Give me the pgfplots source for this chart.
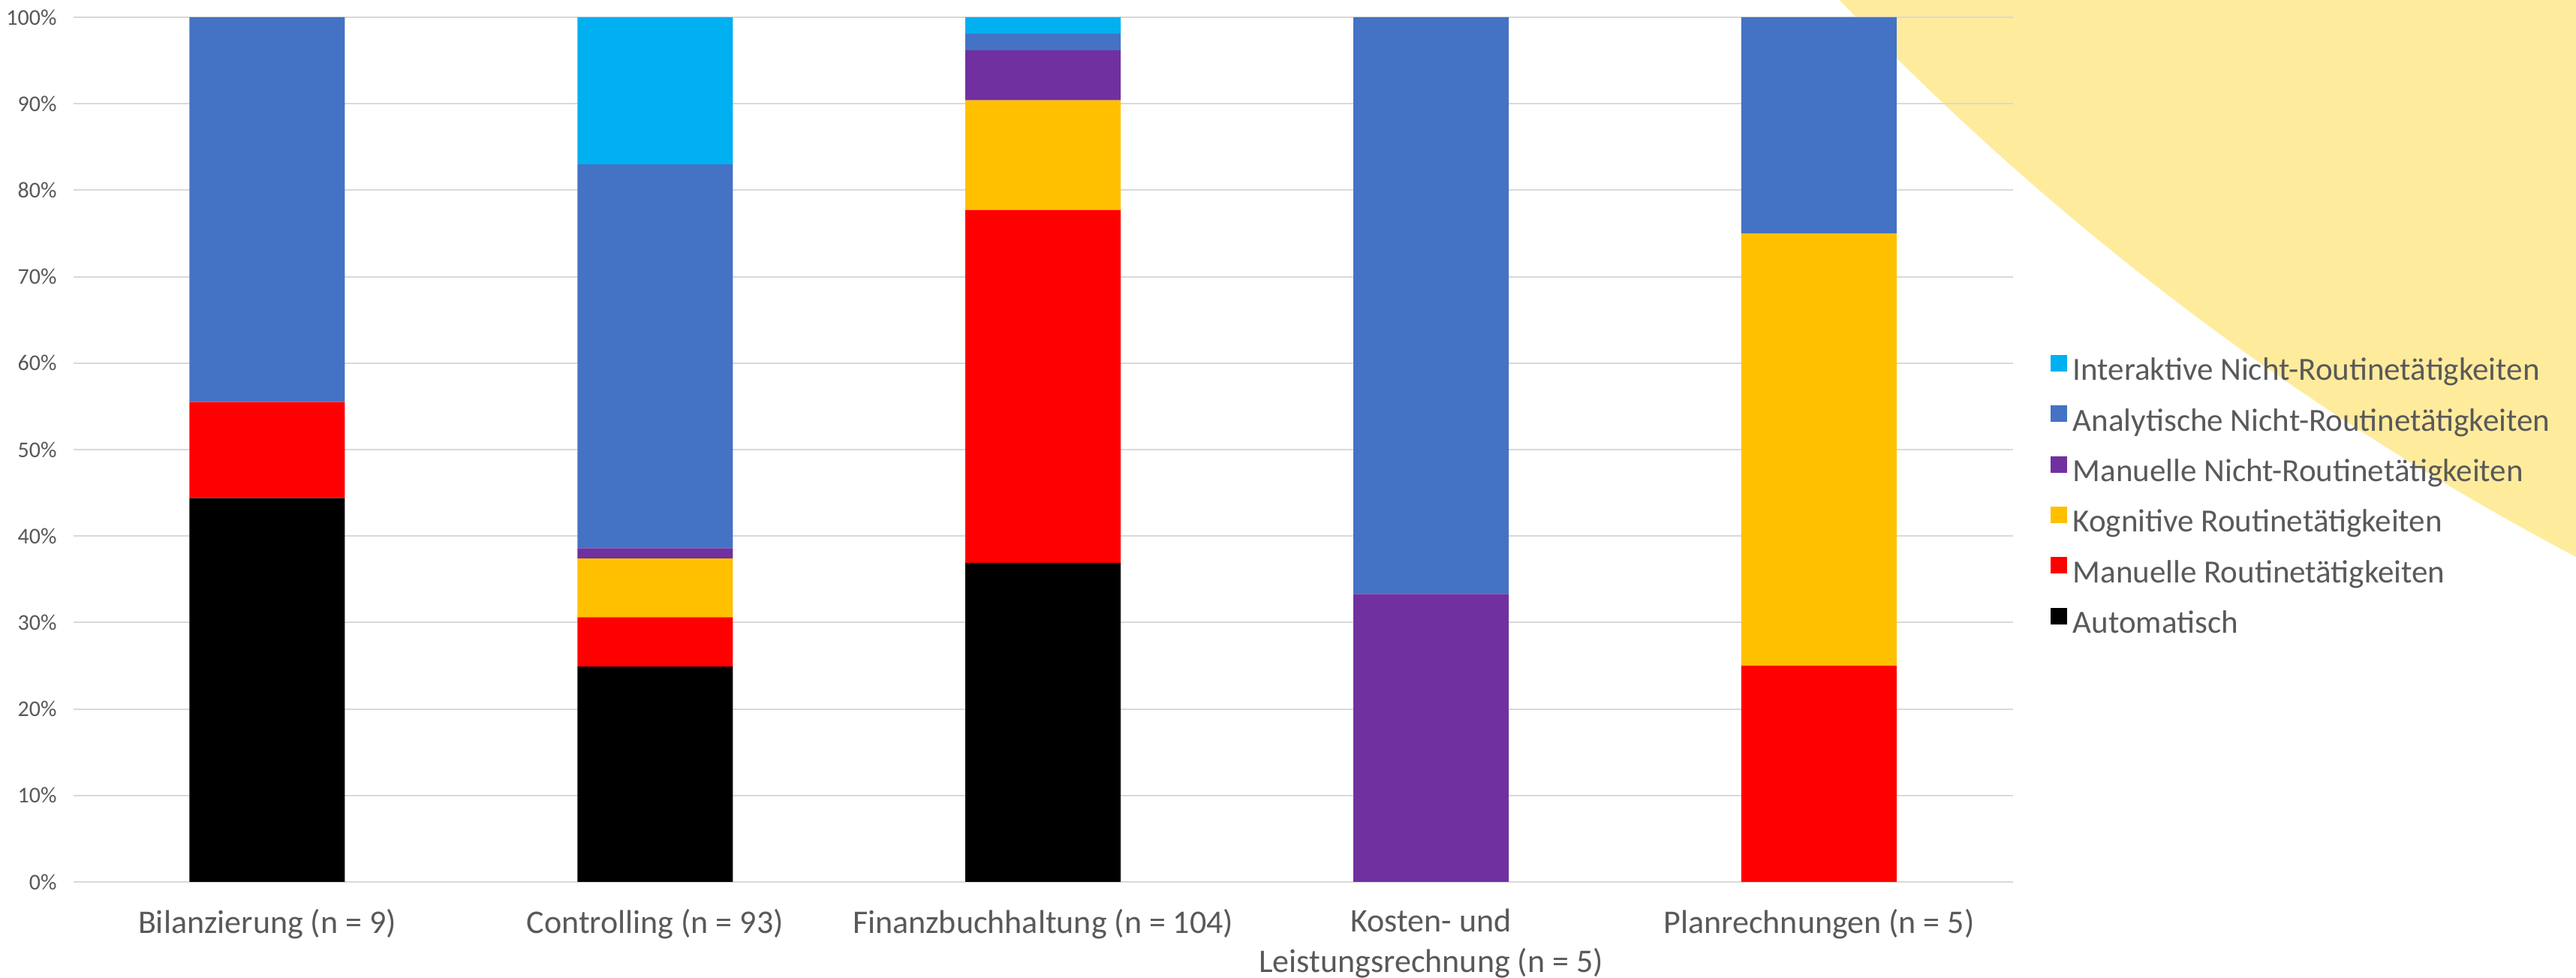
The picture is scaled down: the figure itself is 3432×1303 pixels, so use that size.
\documentclass[border=0pt]{standalone}
\usepackage{fontspec}
\setmainfont{Carlito}
\usepackage{pgfplots}
\pgfplotsset{compat=1.18}

\definecolor{txtgray}{HTML}{595959}
\definecolor{gridgray}{HTML}{D9D9D9}
\definecolor{bgyellow}{HTML}{FFEB9C}
\definecolor{cInter}{HTML}{00B0F0}
\definecolor{cAnaly}{HTML}{4472C4}
\definecolor{cManNR}{HTML}{7030A0}
\definecolor{cKogn}{HTML}{FFC000}
\definecolor{cManR}{HTML}{FF0000}
\definecolor{cAuto}{HTML}{000000}

\begin{document}
\begin{tikzpicture}[x=0.25pt,y=0.25pt]
\useasboundingbox (0,0) rectangle (3432,1303);
% decorative background disc in the upper right corner
\begin{scope}
  \clip (0,0) rectangle (3432,1303);
  \fill[bgyellow] (1301pt,982pt) circle[radius=951pt];
\end{scope}
\begin{axis}[
  at={(24.375pt,32pt)}, anchor=south west,
  width=646.1pt, height=288pt, scale only axis,
  ybar stacked, bar width=51.75pt,
  xmin=-0.5, xmax=4.5, ymin=0, ymax=100,
  xtick={0,1,2,3,4},
  xticklabels={Bilanzierung (n = 9), Controlling (n = 93), Finanzbuchhaltung (n = 104), {Kosten- und\\Leistungsrechnung (n = 5)}, Planrechnungen (n = 5)},
  ytick={0,10,...,100},
  yticklabel={\pgfmathprintnumber{\tick}\%},
  /pgf/number format/assume math mode=true,
  major tick length=0pt,
  axis line style={draw=none},
  ymajorgrids, grid style={gridgray, line width=0.5pt},
  xticklabel style={align=center, anchor=north, inner sep=0pt, yshift=-8.8pt,
    text=txtgray, font=\fontsize{11}{13.4}\selectfont},
  yticklabel style={anchor=east, inner sep=0pt, xshift=-5.3pt,
    text=txtgray, font=\fontsize{7.5}{9}\selectfont},
  legend image code/.code={\fill[#1, draw=none] (0pt,0pt) rectangle (5.5pt,5.5pt);},
  reverse legend,
  legend cell align=left,
  legend style={draw=none, fill=none, at={(1,0.448)}, anchor=west,
    xshift=12.25pt, yshift=-1.1pt,
    inner sep=0pt, text=txtgray, font=\fontsize{10.75}{12}\selectfont,
    row sep=3.9pt},
]
\addplot[fill=cAuto, draw=none] coordinates {(0,44.4) (1,24.9) (2,36.9) (3,0) (4,0)};
\addlegendentry{Automatisch}
\addplot[fill=cManR, draw=none] coordinates {(0,11.1) (1,5.7) (2,40.8) (3,0) (4,25)};
\addlegendentry{Manuelle Routinetätigkeiten}
\addplot[fill=cKogn, draw=none] coordinates {(0,0) (1,6.8) (2,12.7) (3,0) (4,50)};
\addlegendentry{Kognitive Routinetätigkeiten}
\addplot[fill=cManNR, draw=none] coordinates {(0,0) (1,1.2) (2,5.8) (3,33.3) (4,0)};
\addlegendentry{Manuelle Nicht-Routinetätigkeiten}
\addplot[fill=cAnaly, draw=none] coordinates {(0,44.5) (1,44.4) (2,1.9) (3,66.7) (4,25)};
\addlegendentry{Analytische Nicht-Routinetätigkeiten}
\addplot[fill=cInter, draw=none] coordinates {(0,0) (1,17.0) (2,1.9) (3,0) (4,0)};
\addlegendentry{Interaktive Nicht-Routinetätigkeiten}
\end{axis}
\end{tikzpicture}
\end{document}
